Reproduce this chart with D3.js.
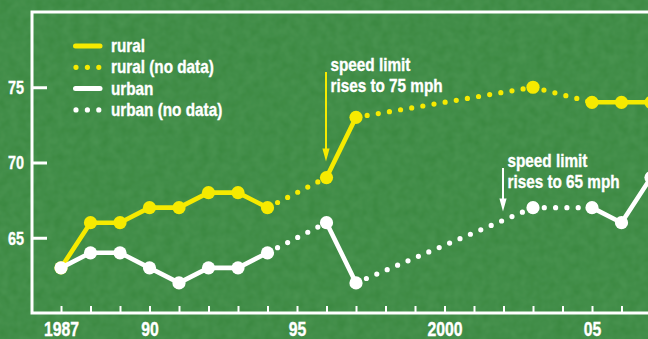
<!DOCTYPE html>
<html>
<head>
<meta charset="utf-8">
<script src="https://cdn.jsdelivr.net/npm/d3@7"></script>
<style>
  html, body { margin: 0; padding: 0; background: #3c8942; }
  svg { display: block; }
  text { font-family: "Liberation Sans", Arial, sans-serif; font-weight: bold; fill: #fff; stroke: #fff; stroke-width: 0.35px; }
</style>
</head>
<body>
<svg id="chart" width="648" height="339"></svg>
<script>
// Average travel speeds (mph) on rural and urban interstates, by year
const years = d3.range(1987, 2008);
const rural = [63, 66, 66, 67, 67, 68, 68, 67, null, 69, 73, null, null, null, null, null, 75, null, 74, 74, 74];
const urban = [63, 64, 64, 63, 62, 63, 63, 64, null, 66, 62, null, null, null, null, null, 67, null, 67, 66, 69];

const yTicks = [65, 70, 75];
const xTickLabels = [
  { year: 1987, label: "1987" },
  { year: 1990, label: "90" },
  { year: 1995, label: "95" },
  { year: 2000, label: "2000" },
  { year: 2005, label: "05" }
];
const legendLabels = ["rural", "rural (no data)", "urban", "urban (no data)"];
const noteYears = [1996, 2002];
const noteLines = [["speed limit", "rises to 75 mph"], ["speed limit", "rises to 65 mph"]];

const W = 648, H = 339;
const plot = { left: 32, top: 12, bottom: 313 };
const YELLOW = "#f6ea00", WHITE = "#ffffff";
// arrow extents (pixels) for each note
const noteLayout = [
  { top: 72, tip: 161.5, textY: 71.5, color: YELLOW },
  { top: 168, tip: 211.5, textY: 167.5, color: WHITE }
];

const svg = d3.select("#chart");

// condensed lettering: narrow the glyphs horizontally around the anchor
function condense(sel, k) {
  sel.each(function () {
    const t = d3.select(this);
    const x0 = +t.attr("x") || 0, y0 = +t.attr("y") || 0;
    t.attr("transform", `translate(${x0},${y0}) scale(${k},1) translate(${-x0},${-y0})`);
  });
}

// mottled paper texture over the green ground
const defs = svg.append("defs");
const f = defs.append("filter").attr("id", "grain").attr("x", 0).attr("y", 0).attr("width", "100%").attr("height", "100%");
f.append("feTurbulence").attr("type", "fractalNoise").attr("baseFrequency", 0.11).attr("numOctaves", 2).attr("seed", 4);
f.append("feColorMatrix").attr("type", "matrix")
  .attr("values", "0 0 0 0 0.18  0 0 0 0 0.48  0 0 0 0 0.22  0 0 0 0.3 -0.05");
f.append("feComposite").attr("in2", "SourceGraphic").attr("operator", "in");

svg.append("rect").attr("width", W).attr("height", H).attr("fill", "#3c8942");
svg.append("rect").attr("width", W).attr("height", H).attr("fill", "#3c8942").attr("filter", "url(#grain)");

const x = d3.scaleLinear().domain([1986, 2007]).range([31.5, 651]);
const y = d3.scaleLinear().domain([60, 80]).range([plot.bottom, plot.top]);

// frame
svg.append("path")
  .attr("d", `M${W + 5},${plot.top}H${plot.left}V${plot.bottom}H${W + 5}`)
  .attr("fill", "none").attr("stroke", WHITE).attr("stroke-width", 3);

// x axis: a tick for every year, labels on selected years
const xAxis = d3.axisBottom(x)
  .tickValues(years)
  .tickSize(7)
  .tickFormat(d => { const t = xTickLabels.find(l => l.year === d); return t ? t.label : ""; });
const gx = svg.append("g").attr("transform", `translate(0,${plot.bottom})`).call(xAxis);
gx.select(".domain").remove();
gx.selectAll(".tick line").attr("stroke", WHITE).attr("stroke-width", 2).attr("y1", -7).attr("y2", 0);
gx.selectAll(".tick text").attr("y", 23.3).attr("dy", 0).attr("x", 0).style("font-size", "19.5px").attr("fill", WHITE)
  .call(condense, 0.81);

// y axis
const yAxis = d3.axisLeft(y).tickValues(yTicks).tickSize(0).tickFormat(d3.format("d"));
const gy = svg.append("g").attr("transform", `translate(${plot.left},0)`).call(yAxis);
gy.select(".domain").remove();
gy.selectAll(".tick line").attr("stroke", WHITE).attr("stroke-width", 3).attr("x1", 0).attr("x2", 15);
gy.selectAll(".tick text").attr("x", -8).attr("y", 0).attr("dy", "0.36em").style("font-size", "18px").attr("fill", WHITE)
  .call(condense, 0.8);

// split a series into measured runs (consecutive years) and gaps bridged with dots
function segments(values) {
  const pts = years.map((yr, i) => ({ yr, v: values[i] })).filter(p => p.v != null);
  const solid = [], dotted = [];
  for (let i = 1; i < pts.length; i++) {
    const seg = [pts[i - 1], pts[i]];
    (pts[i].yr - pts[i - 1].yr === 1 ? solid : dotted).push(seg);
  }
  return { pts, solid, dotted };
}

const line = d3.line().x(p => x(p.yr)).y(p => y(p.v));

function drawSeries(values, color) {
  const g = svg.append("g");
  const s = segments(values);
  g.selectAll("path.dot").data(s.dotted).join("path")
    .attr("d", line).attr("fill", "none").attr("stroke", color)
    .attr("stroke-width", 5.2).attr("stroke-linecap", "round").attr("stroke-dasharray", "0 11.3");
  g.selectAll("path.solid").data(s.solid).join("path")
    .attr("d", line).attr("fill", "none").attr("stroke", color)
    .attr("stroke-width", 4.6).attr("stroke-linecap", "round");
  g.selectAll("circle").data(s.pts).join("circle")
    .attr("cx", p => x(p.yr)).attr("cy", p => y(p.v)).attr("r", 6.6).attr("fill", color);
}

drawSeries(rural, YELLOW);
drawSeries(urban, WHITE);

// annotations with arrows
noteYears.forEach((yr, i) => {
  const L = noteLayout[i];
  const ax = x(yr) - 0.5;
  svg.append("line").attr("x1", ax).attr("x2", ax).attr("y1", L.top).attr("y2", L.tip - 9)
    .attr("stroke", L.color).attr("stroke-width", 2);
  svg.append("path").attr("d", `M${ax - 3.6},${L.tip - 13}L${ax + 3.6},${L.tip - 13}L${ax},${L.tip}Z`).attr("fill", L.color);
  noteLines[i].forEach((ln, j) => {
    svg.append("text").attr("x", ax + 4.5).attr("y", L.textY + j * 20.5)
      .style("font-size", "18px").text(ln).call(condense, 0.85);
  });
});

// legend
const lg = svg.append("g");
legendLabels.forEach((label, i) => {
  const cy = 46 + i * 21.3;
  const color = i < 2 ? YELLOW : WHITE;
  const dotted = i % 2 === 1;
  if (dotted) {
    lg.append("line").attr("x1", 76).attr("x2", 99).attr("y1", cy).attr("y2", cy)
      .attr("stroke", color).attr("stroke-width", 5.2).attr("stroke-linecap", "round").attr("stroke-dasharray", "0 11.4");
  } else {
    lg.append("line").attr("x1", 75.5).attr("x2", 100).attr("y1", cy).attr("y2", cy)
      .attr("stroke", color).attr("stroke-width", 5).attr("stroke-linecap", "round");
  }
  lg.append("text").attr("x", 111).attr("y", cy + 6.2).style("font-size", "18px").text(label).call(condense, 0.85);
});
</script>
</body>
</html>
